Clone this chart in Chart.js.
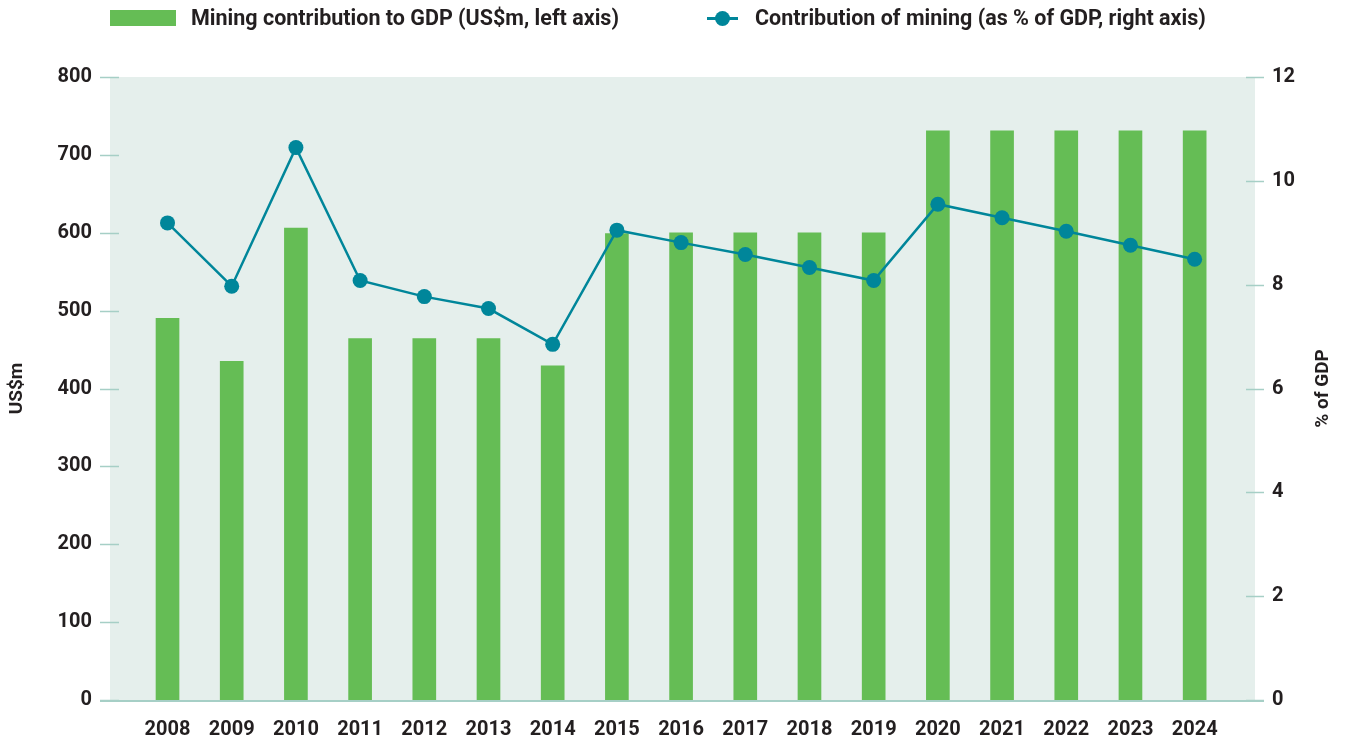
<!DOCTYPE html>
<html>
<head>
<meta charset="utf-8">
<script src="https://cdn.jsdelivr.net/npm/chart.js@4.4.1/dist/chart.umd.min.js"></script>
<style>
    html, body { margin: 0; padding: 0; background: #fff; }
    #wrap { position: relative; width: 1348px; height: 742px; }
    #myChart { position: absolute; left: 0; top: 0; }
    .legend { position: absolute; top: 4px; font: 700 21.5px Roboto, sans-serif; color: #231f20; line-height: 28px; white-space: nowrap; }
    .swatch { position: absolute; left: 110px; top: 10px; width: 66px; height: 16px; background: #65bd55; }
    .lline { position: absolute; left: 707px; top: 17px; width: 31px; height: 2.5px; background: #00869a; }
    .ldot { position: absolute; left: 715px; top: 11px; width: 15px; height: 15px; border-radius: 50%; background: #00869a; }
</style>
</head>
<body>
<div id="wrap">
    <canvas id="myChart" width="1348" height="742"></canvas>
    <div class="swatch"></div>
    <div class="legend" style="left:191px">Mining contribution to GDP (US$m, left axis)</div>
    <div class="lline"></div>
    <div class="ldot"></div>
    <div class="legend" style="left:755px">Contribution of mining (as % of GDP, right axis)</div>
</div>
<script>
const categories = [2008, 2009, 2010, 2011, 2012, 2013, 2014, 2015, 2016, 2017, 2018, 2019, 2020, 2021, 2022, 2023, 2024];
const miningGdp = [490, 435, 606, 464, 464, 464, 429, 599, 600, 600, 600, 600, 731, 731, 731, 731, 731];
const miningShare = [9.19, 7.97, 10.64, 8.08, 7.77, 7.54, 6.85, 9.05, 8.81, 8.58, 8.33, 8.08, 9.55, 9.29, 9.03, 8.76, 8.49];
const leftTicks = [0, 100, 200, 300, 400, 500, 600, 700, 800];
const rightTicks = [0, 2, 4, 6, 8, 10, 12];

const textColor = '#231f20';
const tickFont = { family: 'Roboto', weight: '700', size: 20 };

// фон области графика, засечки осей, подпись правой оси
const plotDecor = {
    id: 'plotDecor',
    beforeDraw(chart) {
        const { ctx, chartArea: a } = chart;
        ctx.save();
        ctx.fillStyle = '#e5efec';
        ctx.fillRect(a.left, a.top, a.right - a.left, a.bottom - a.top);
        ctx.restore();
    },
    afterDatasetsDraw(chart) {
        const { ctx, chartArea: a, scales } = chart;
        ctx.save();
        ctx.strokeStyle = '#a6cfc6';
        ctx.lineWidth = 1.5;
        scales.y.ticks.forEach(t => {
            const y = Math.round(scales.y.getPixelForValue(t.value)) + 0.5;
            ctx.beginPath();
            ctx.moveTo(a.left - 10, y);
            ctx.lineTo(a.left + 9, y);
            ctx.stroke();
        });
        scales.y1.ticks.forEach(t => {
            const y = Math.round(scales.y1.getPixelForValue(t.value)) + 0.5;
            ctx.beginPath();
            ctx.moveTo(a.right - 9, y);
            ctx.lineTo(a.right + 9, y);
            ctx.stroke();
        });
        ctx.lineWidth = 2;
        ctx.beginPath();
        ctx.moveTo(a.left - 10, a.bottom + 1);
        ctx.lineTo(a.right + 9, a.bottom + 1);
        ctx.stroke();

        // правая подпись читается снизу вверх
        ctx.translate(1323, (a.top + a.bottom) / 2);
        ctx.rotate(-Math.PI / 2);
        ctx.fillStyle = textColor;
        ctx.font = '700 19px Roboto';
        ctx.textAlign = 'center';
        ctx.textBaseline = 'middle';
        ctx.fillText('% of GDP', 0, 0);
        ctx.restore();
    }
};

new Chart(document.getElementById('myChart'), {
    type: 'bar',
    data: {
        datasets: [
            {
                type: 'line',
                data: categories.map((c, i) => ({ x: c, y: miningShare[i] })),
                yAxisID: 'y1',
                borderColor: '#00869a',
                backgroundColor: '#00869a',
                borderWidth: 2.5,
                pointRadius: 7.5,
                pointHoverRadius: 7.5,
                pointBorderWidth: 0,
                tension: 0,
                order: 1
            },
            {
                type: 'bar',
                data: categories.map((c, i) => ({ x: c, y: miningGdp[i] })),
                yAxisID: 'y',
                backgroundColor: '#65bd55',
                barThickness: 23,
                order: 2
            }
        ]
    },
    options: {
        responsive: false,
        animation: false,
        layout: { padding: { top: 77, left: 0, right: 0, bottom: 0 } },
        plugins: {
            legend: { display: false },
            title: { display: false },
            tooltip: { enabled: false }
        },
        scales: {
            x: {
                type: 'linear',
                offset: false,
                min: 2007.104,
                max: 2024.94,
                afterBuildTicks: s => { s.ticks = categories.map(v => ({ value: v })); },
                afterFit: s => { s.height = 42; },
                grid: { display: false },
                border: { display: false },
                ticks: {
                    callback: v => String(v),
                    color: textColor,
                    font: tickFont,
                    padding: 10,
                    maxRotation: 0,
                    autoSkip: false
                }
            },
            y: {
                position: 'left',
                min: 0,
                max: 800,
                afterBuildTicks: s => { s.ticks = leftTicks.map(v => ({ value: v })); },
                afterFit: s => { s.width = 110; },
                grid: { display: false },
                border: { display: false },
                ticks: { color: textColor, font: tickFont, padding: 10 },
                title: {
                    display: true,
                    text: 'US$m',
                    color: textColor,
                    font: { family: 'Roboto', weight: '700', size: 19 },
                    padding: { top: 6, bottom: 0 }
                }
            },
            y1: {
                position: 'right',
                min: 0,
                max: 12,
                afterBuildTicks: s => { s.ticks = rightTicks.map(v => ({ value: v })); },
                afterFit: s => { s.width = 93; },
                grid: { display: false },
                border: { display: false },
                ticks: { color: textColor, font: tickFont, padding: 9 }
            }
        }
    },
    plugins: [plotDecor]
});
</script>
</body>
</html>
